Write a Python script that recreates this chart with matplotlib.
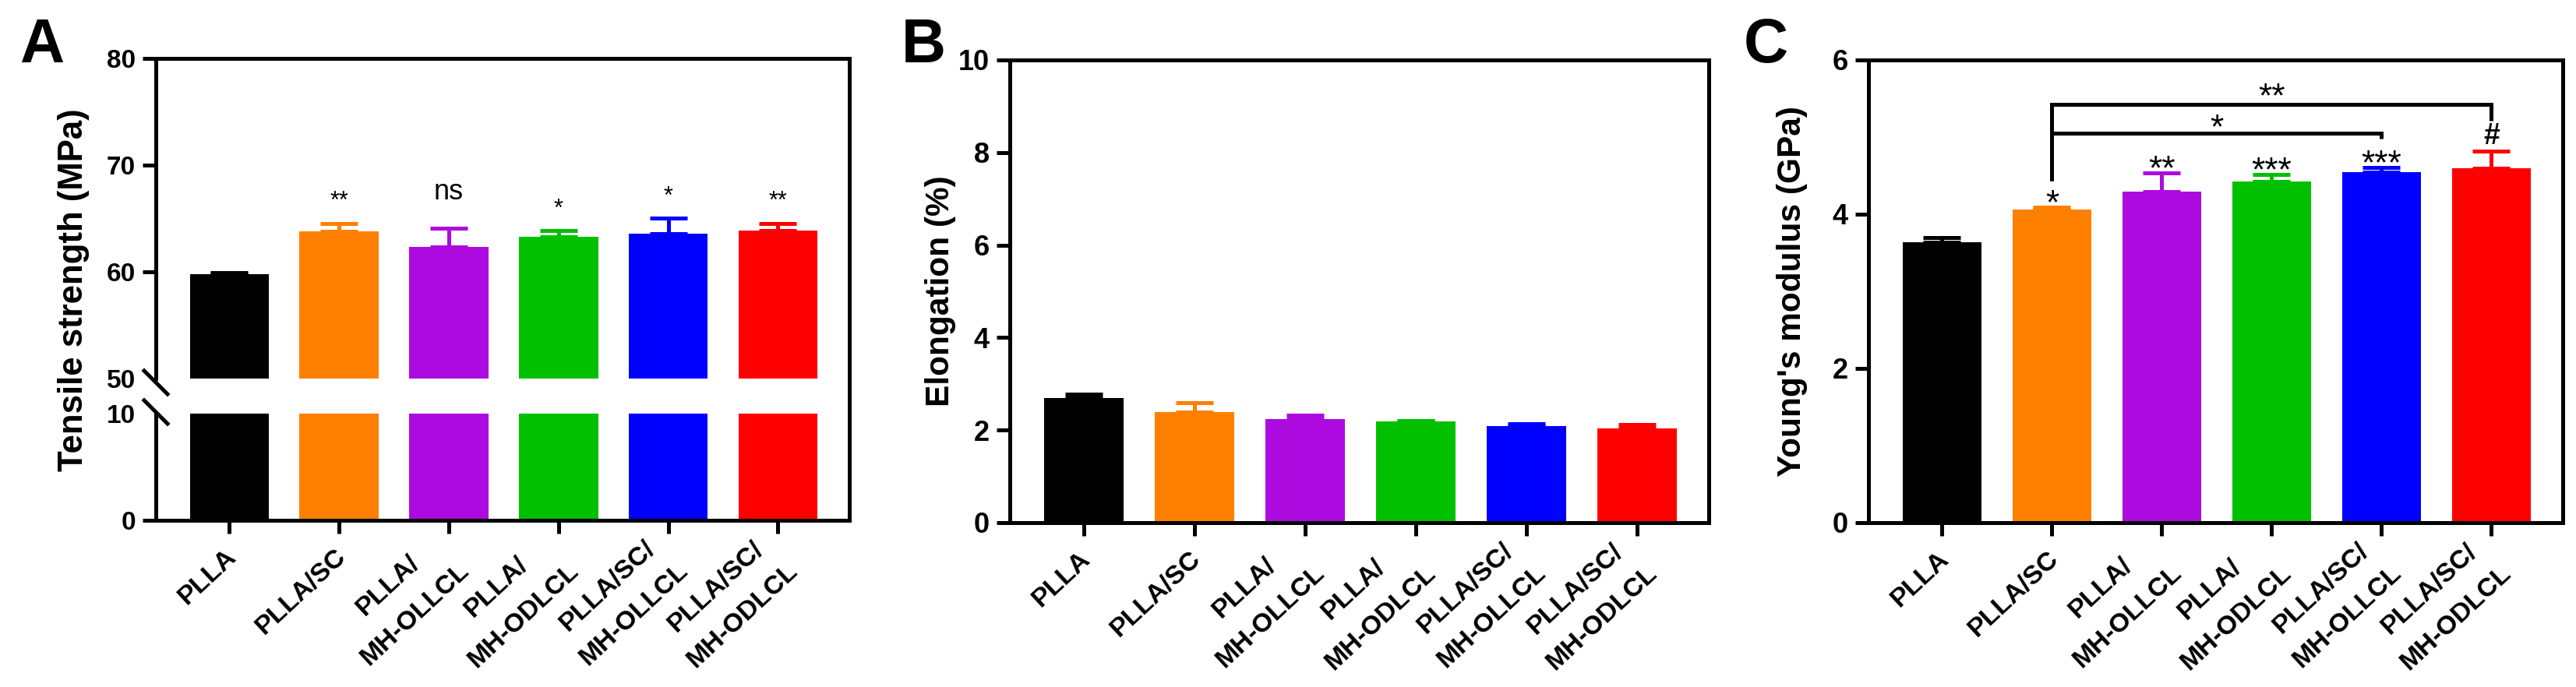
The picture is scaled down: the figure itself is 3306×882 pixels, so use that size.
import matplotlib
matplotlib.use('Agg')
import matplotlib.pyplot as plt
import numpy as np
from matplotlib.transforms import ScaledTranslation
from matplotlib.lines import Line2D

plt.rcParams['font.family'] = ['Liberation Sans', 'DejaVu Sans']

# ---------------- data ----------------
categories = ['PLLA', 'PLLA/SC', 'PLLA/\nMH-OLLCL', 'PLLA/\nMH-ODLCL',
              'PLLA/SC/\nMH-OLLCL', 'PLLA/SC/\nMH-ODLCL']
colors = ['#000000', '#FF8000', '#AD0ADF', '#00C000', '#0000FF', '#FF0000']

tensile_mean = [59.75, 63.8, 62.3, 63.25, 63.6, 63.85]
tensile_err = [0.15, 0.75, 1.8, 0.6, 1.4, 0.7]
tensile_sig = ['', '**', 'ns', '*', '*', '**']

elong_mean = [2.70, 2.39, 2.24, 2.19, 2.09, 2.04]
elong_err = [0.08, 0.20, 0.09, 0.01, 0.05, 0.08]

modulus_mean = [3.64, 4.06, 4.29, 4.42, 4.545, 4.60]
modulus_err = [0.06, 0.03, 0.25, 0.10, 0.065, 0.22]
modulus_sig = ['', '*', '**', '***', '***', '#']

bracket_pairs = [(1, 4), (1, 5)]
bracket_heights = [5.05, 5.42]
bracket_right_ends = [4.98, 5.21]
bracket_left_end = 4.43
bracket_labels = ['*', '**']
bracket_label_y = [5.24, 5.65]

tensile_upper_ticks = [50, 60, 70, 80]
tensile_lower_ticks = [0, 10]
elong_ticks = [0, 2, 4, 6, 8, 10]
modulus_ticks = [0, 2, 4, 6]

# ---------------- figure ----------------
W, H = 3306, 882
fig = plt.figure(figsize=(W / 100, H / 100), dpi=100)


def rect(x0, x1, ytop, ybot):
    return [x0 / W, 1 - ybot / H, (x1 - x0) / W, (ybot - ytop) / H]


axA_top = fig.add_axes(rect(200, 1090, 75, 486))
axA_bot = fig.add_axes(rect(200, 1090, 531, 668))
axB = fig.add_axes(rect(1296, 2193, 77, 671))
axC = fig.add_axes(rect(2398, 3289, 77, 671))

xs = np.arange(len(categories))
LW = 3.6
TICKLEN = 12.2


def draw_bars(ax, mean, err):
    ax.bar(xs, mean, width=0.72, color=colors, linewidth=0, zorder=2)
    for i in range(len(xs)):
        ax.errorbar(xs[i], mean[i], yerr=[[0], [err[i]]], fmt='none',
                    ecolor=colors[i], elinewidth=LW, capsize=17,
                    capthick=LW, zorder=3)


def style(ax, yfs):
    for s in ax.spines.values():
        s.set_linewidth(LW)
        s.set_color('black')
    ax.tick_params(axis='both', width=LW, length=TICKLEN, direction='out',
                   color='black')
    ax.tick_params(axis='y', labelsize=yfs, pad=6.5)
    for lab in ax.get_yticklabels():
        lab.set_fontweight('bold')
    ax.set_xlim(-0.67, 5.65)


def xlabels(ax):
    ax.set_xticks(xs)
    ax.set_xticklabels(categories, rotation=43, ha='right', va='center',
                       rotation_mode='anchor', fontsize=24.5,
                       fontweight='bold', multialignment='center',
                       linespacing=1.8)
    ax.tick_params(axis='x', pad=18)
    off = ScaledTranslation(4 / 100, 0, fig.dpi_scale_trans)
    for lab in ax.get_xticklabels():
        lab.set_transform(lab.get_transform() + off)


# ---- Panel A (broken axis) ----
for ax in (axA_top, axA_bot):
    draw_bars(ax, tensile_mean, tensile_err)

axA_top.set_ylim(50, 80)
axA_top.set_yticks(tensile_upper_ticks)
axA_bot.set_ylim(0, 10)
axA_bot.set_yticks(tensile_lower_ticks)
style(axA_top, 24)
style(axA_bot, 24)
axA_top.spines['bottom'].set_visible(False)
axA_top.tick_params(axis='x', bottom=False, labelbottom=False)
axA_bot.spines['top'].set_visible(False)
xlabels(axA_bot)
axA_top.yaxis.get_major_ticks()[0].tick1line.set_visible(False)
axA_bot.yaxis.get_major_ticks()[1].tick1line.set_visible(False)

for i, s in enumerate(tensile_sig):
    if not s:
        continue
    top = tensile_mean[i] + tensile_err[i]
    if s == 'ns':
        axA_top.annotate(s, xy=(xs[i], top), xytext=(0, 26.6),
                         textcoords='offset points', ha='center',
                         va='baseline', fontsize=26)
    else:
        axA_top.annotate(s, xy=(xs[i], top), xytext=(0, 14),
                         textcoords='offset points', ha='center',
                         va='baseline', fontsize=22)

# right spine through the gap and break marks
fig.add_artist(Line2D([1090 / W, 1090 / W], [1 - 486 / H, 1 - 531 / H],
                      transform=fig.transFigure, lw=LW, color='black'))
for (cx, cy) in [(200, 491), (200, 529)]:
    fig.add_artist(Line2D([(cx - 15) / W, (cx + 15) / W],
                          [1 - (cy - 15) / H, 1 - (cy + 15) / H],
                          transform=fig.transFigure, lw=LW, color='black'))

# ---- Panel B ----
draw_bars(axB, elong_mean, elong_err)
axB.set_ylim(0, 10)
axB.set_yticks(elong_ticks)
style(axB, 26)
xlabels(axB)

# ---- Panel C ----
draw_bars(axC, modulus_mean, modulus_err)
axC.set_ylim(0, 6)
axC.set_yticks(modulus_ticks)
style(axC, 26)
xlabels(axC)

for i, s in enumerate(modulus_sig):
    if not s:
        continue
    top = modulus_mean[i] + modulus_err[i]
    if s == '#':
        axC.annotate(s, xy=(xs[i], top), xytext=(0, 6),
                     textcoords='offset points', ha='center',
                     va='baseline', fontsize=27, fontweight='bold')
    else:
        axC.annotate(s, xy=(xs[i], top), xytext=(0, -6),
                     textcoords='offset points', ha='center',
                     va='baseline', fontsize=32)

for (a, b), h, rend, lab, ly in zip(bracket_pairs, bracket_heights,
                                    bracket_right_ends, bracket_labels,
                                    bracket_label_y):
    axC.plot([xs[a], xs[a], xs[b], xs[b]],
             [bracket_left_end, h, h, rend], color='black', lw=LW,
             solid_joinstyle='miter', solid_capstyle='butt', zorder=4,
             clip_on=False)
    axC.annotate(lab, xy=((xs[a] + xs[b]) / 2, ly), xytext=(0, -18.4),
                 textcoords='offset points', ha='center', va='baseline',
                 fontsize=32)

# ---- y labels & panel letters ----
fig.text(95 / W, 1 - 372 / H, 'Tensile strength (MPa)', rotation=90,
         fontsize=31.5, fontweight='bold', ha='center', va='center')
fig.text(1207 / W, 1 - 374 / H, 'Elongation (%)', rotation=90,
         fontsize=30.5, fontweight='bold', ha='center', va='center')
fig.text(2300 / W, 1 - 374 / H, "Young's modulus (GPa)", rotation=90,
         fontsize=30.5, fontweight='bold', ha='center', va='center')

for x0, letter in [(25, 'A'), (1157, 'B'), (2238, 'C')]:
    fig.text(x0 / W, 1 - 80 / H, letter, fontsize=57, fontweight='bold',
             ha='left', va='baseline')

fig.savefig('out.png', dpi=100)
